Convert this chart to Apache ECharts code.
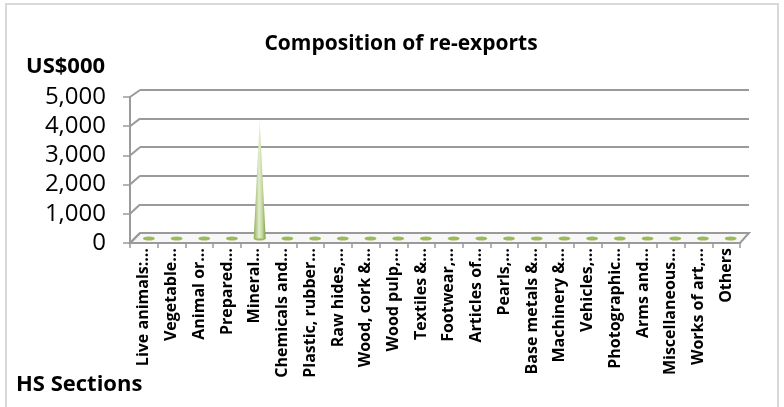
<!DOCTYPE html>
<html>
<head>
<meta charset="utf-8">
<script src="https://cdn.jsdelivr.net/npm/echarts@6.0.0/dist/echarts.min.js"></script>
<style>
  html, body { margin: 0; padding: 0; background: #fff; }
  #main { width: 784px; height: 407px; }
</style>
</head>
<body>
<div id="main"></div>
<script>
// HS sections (labels as truncated in the original chart)
const sections = [
  'Live animals:…', 'Vegetable…', 'Animal or…', 'Prepared…', 'Mineral…',
  'Chemicals and…', 'Plastic, rubber…', 'Raw hides,…', 'Wood, cork &…', 'Wood pulp,…',
  'Textiles &…', 'Footwear,…', 'Articles of…', 'Pearls,…', 'Base metals &…',
  'Machinery &…', 'Vehicles,…', 'Photographic…', 'Arms and…', 'Miscellaneous…',
  'Works of art,…', 'Others'
]
// re-exports, US$000
const reexports = [0, 0, 0, 0, 4070, 0, 0, 0, 0, 0, 0, 0, 0, 0, 0, 0, 0, 0, 0, 0, 0, 0]
const yTicks = [0, 1000, 2000, 3000, 4000, 5000]

const FONT = '"Open Sans", "Liberation Sans", sans-serif'
const gridColor = '#9a9a9a'

// back wall, middle (where the cones sit), front (axes)
const back = { left: 140, right: 35, top: 90, bottom: 174 }
const mid = { left: 135, right: 39.5, top: 93.5, bottom: 168.5 }
const front = { left: 130, right: 44, top: 97, bottom: 164 }

const chart = echarts.init(document.getElementById('main'), null, { renderer: 'canvas' })

const coneGradient = new echarts.graphic.LinearGradient(0, 0, 1, 0, [
  { offset: 0, color: '#8fad52' },
  { offset: 0.45, color: '#e4edd0' },
  { offset: 0.7, color: '#c5d89e' },
  { offset: 1, color: '#7f9e45' }
])

const yAxisBase = {
  type: 'value',
  min: yTicks[0],
  max: yTicks[yTicks.length - 1],
  interval: 1000
}
const boldText = { fontFamily: FONT, fontWeight: 'bold', color: '#000' }

chart.setOption({
  animation: false,
  textStyle: { fontFamily: FONT },
  title: [
    {
      text: 'Composition of re-exports',
      left: 396, top: 29, textAlign: 'center',
      textStyle: Object.assign({ fontSize: 21 }, boldText)
    },
    {
      text: 'US$000',
      left: 26, top: 56, padding: 0,
      textStyle: Object.assign({ fontSize: 22 }, boldText)
    },
    {
      text: 'HS Sections',
      left: 16, top: 374, padding: 0,
      textStyle: Object.assign({ fontSize: 22 }, boldText)
    }
  ],
  grid: [
    Object.assign({ outerBoundsMode: 'none' }, back),
    Object.assign({ outerBoundsMode: 'none' }, mid),
    Object.assign({ outerBoundsMode: 'none' }, front)
  ],
  xAxis: [
    { gridIndex: 0, type: 'category', data: sections, show: false },
    { gridIndex: 1, type: 'category', data: sections, show: false },
    {
      gridIndex: 2, type: 'category', data: sections,
      axisLine: { show: true, lineStyle: { color: gridColor, width: 2 } },
      axisTick: { show: true, interval: 0, length: 5, lineStyle: { color: gridColor, width: 1.5 } },
      axisLabel: {
        interval: 0, rotate: 90, margin: 5,
        fontFamily: FONT, fontSize: 16, fontWeight: 'bold', color: '#000'
      }
    }
  ],
  yAxis: [
    Object.assign({ gridIndex: 0, show: true,
      axisLine: { show: false }, axisTick: { show: false }, axisLabel: { show: false },
      splitLine: { show: true, lineStyle: { color: gridColor, width: 2 } } }, yAxisBase),
    Object.assign({ gridIndex: 1, show: false }, yAxisBase),
    Object.assign({ gridIndex: 2,
      axisLine: { show: true, lineStyle: { color: gridColor, width: 2 } },
      axisTick: { show: true, length: 7, lineStyle: { color: gridColor, width: 1.5 } },
      splitLine: { show: false },
      axisLabel: {
        margin: 24, fontFamily: FONT, fontSize: 24, color: '#000',
        formatter: v => v.toLocaleString('en-US')
      }
    }, yAxisBase)
  ],
  series: [
    {
      name: 'base',
      type: 'pictorialBar',
      xAxisIndex: 1, yAxisIndex: 1,
      symbol: 'path://M0,5 A10,5 0 1,0 20,5 A10,5 0 1,0 0,5 Z',
      symbolSize: [12, 4],
      symbolPosition: 'start',
      symbolOffset: [0, '50%'],
      itemStyle: { color: '#9bbb59' },
      z: 3,
      data: reexports.map(() => 0.0001)
    },
    {
      name: 'Re-exports',
      type: 'pictorialBar',
      xAxisIndex: 1, yAxisIndex: 1,
      symbol: 'triangle',
      symbolSize: [12, '100%'],
      symbolPosition: 'start',
      itemStyle: { color: coneGradient },
      z: 4,
      data: reexports
    }
  ]
})

// 3-D look: slanted connectors and the floor, placed from the axes' own scales
function pt(gridIdx, cat, val) {
  return chart.convertToPixel({ xAxisIndex: gridIdx, yAxisIndex: gridIdx }, [cat, val])
}
const firstCat = sections[0], lastCat = sections[sections.length - 1]
const graphics = []
const halfCat = (pt(2, sections[1], 0)[0] - pt(2, firstCat, 0)[0]) / 2
const fl = pt(2, firstCat, 0)[0] - halfCat
const fr = pt(2, lastCat, 0)[0] + halfCat
const halfBack = (pt(0, sections[1], 0)[0] - pt(0, firstCat, 0)[0]) / 2
const bl = pt(0, firstCat, 0)[0] - halfBack
const br = pt(0, lastCat, 0)[0] + halfBack

yTicks.forEach(v => {
  const fy = pt(2, firstCat, v)[1]
  const by = pt(0, firstCat, v)[1]
  graphics.push({
    type: 'line', z: 1,
    shape: { x1: fl, y1: fy, x2: bl, y2: by },
    style: { stroke: gridColor, lineWidth: 2 }
  })
})
const f0 = pt(2, firstCat, 0)[1], b0 = pt(0, firstCat, 0)[1]
graphics.push({
  type: 'polygon', z: 0,
  shape: { points: [[fl, f0], [fr, f0], [br, b0], [bl, b0]] },
  style: { fill: '#f7f7f7', stroke: gridColor, lineWidth: 2 }
})
graphics.push({
  type: 'rect', z: -1,
  shape: { x: 6, y: 4, width: 772, height: 410 },
  style: { fill: 'none', stroke: '#d9d9d9', lineWidth: 2 }
})
chart.setOption({ graphic: graphics })
</script>
</body>
</html>
